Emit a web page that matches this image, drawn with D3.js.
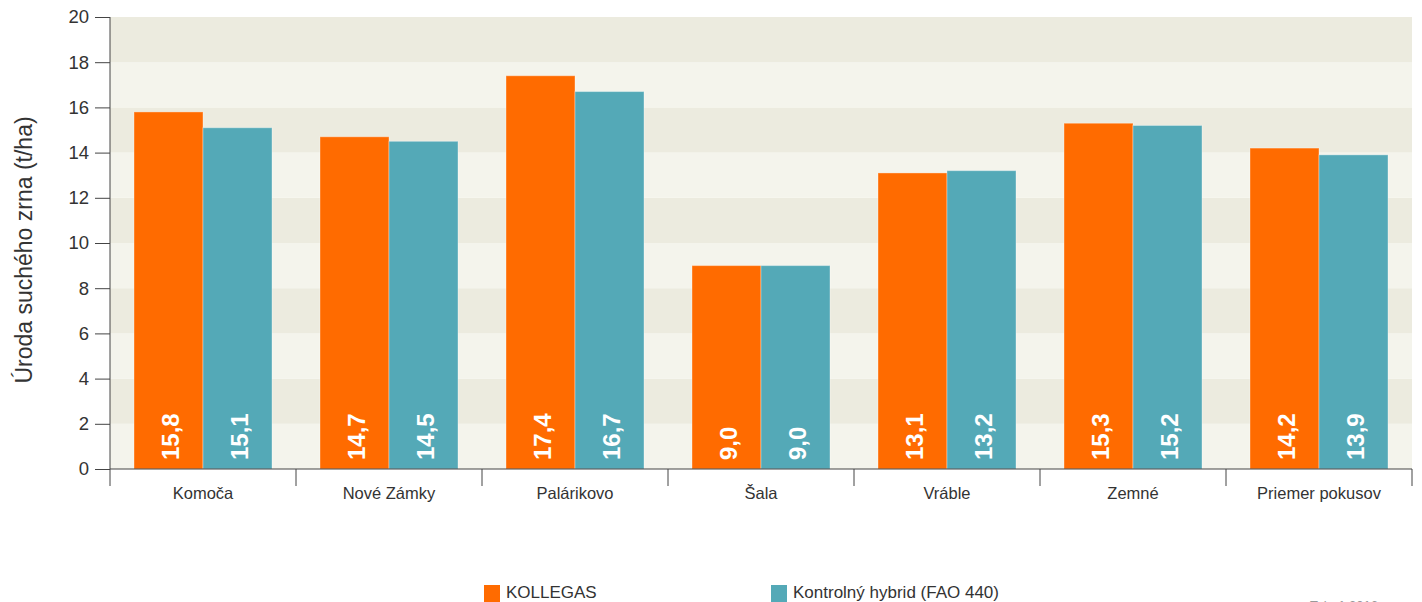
<!DOCTYPE html>
<html>
<head>
<meta charset="utf-8">
<script src="https://cdn.jsdelivr.net/npm/d3@7"></script>
<style>
  body { margin: 0; background: #fff; }
  svg { display: block; font-family: "Liberation Sans", Arial, sans-serif; }
</style>
</head>
<body>
<svg id="chart" width="1422" height="602"></svg>
<script>
const categories = ["Komoča", "Nové Zámky", "Palárikovo", "Šala", "Vráble", "Zemné", "Priemer pokusov"];
const kollegas = [15.8, 14.7, 17.4, 9.0, 13.1, 15.3, 14.2];
const kontrolny = [15.1, 14.5, 16.7, 9.0, 13.2, 15.2, 13.9];
const seriesNames = ["KOLLEGAS", "Kontrolný hybrid (FAO 440)"];
const yTicks = [0, 2, 4, 6, 8, 10, 12, 14, 16, 18, 20];

const colors = ["#ff6b00", "#54a9b7"];
const svg = d3.select("#chart");
const margin = { top: 17, right: 10, bottom: 133, left: 110 };
const width = 1422 - margin.left - margin.right;
const height = 602 - margin.top - margin.bottom;

const g = svg.append("g").attr("transform", `translate(${margin.left},${margin.top})`);

const x = d3.scaleBand().domain(categories).range([0, width]).paddingInner(0).paddingOuter(0);
const inner = d3.scaleBand().domain([0, 1]).range([24, x.bandwidth() - 24]);
const y = d3.scaleLinear().domain([0, 20]).range([height, 0]);

// background bands
const bands = d3.range(0, 20, 2);
g.selectAll(".band")
  .data(bands)
  .enter()
  .append("rect")
  .attr("x", 0)
  .attr("width", width)
  .attr("y", (d) => y(d + 2))
  .attr("height", (d) => y(d) - y(d + 2))
  .attr("fill", (d, i) => (i % 2 ? "#ecebdf" : "#f4f4ec"));

// bars
const rows = categories.map((c, i) => ({ cat: c, vals: [kollegas[i], kontrolny[i]] }));
const grp = g.selectAll(".grp")
  .data(rows)
  .enter()
  .append("g")
  .attr("transform", (d) => `translate(${x(d.cat)},0)`);

grp.selectAll("rect")
  .data((d) => d.vals.map((v, k) => ({ v, k })))
  .enter()
  .append("rect")
  .attr("x", (d) => inner(d.k))
  .attr("width", inner.bandwidth())
  .attr("y", (d) => y(d.v))
  .attr("height", (d) => height - y(d.v))
  .attr("fill", (d) => colors[d.k])
  .attr("stroke", "rgba(255,255,255,0.35)")
  .attr("stroke-width", 1);

grp.selectAll("text")
  .data((d) => d.vals.map((v, k) => ({ v, k })))
  .enter()
  .append("text")
  .attr("transform", (d) => `translate(${inner(d.k) + inner.bandwidth() / 2 + 10},${height - 9}) rotate(-90)`)
  .attr("fill", "#fff")
  .attr("font-weight", "bold")
  .attr("font-size", 24)
  .text((d) => d3.format(".1f")(d.v).replace(".", ","));

// y axis
const yAxis = d3.axisLeft(y).tickValues(yTicks).tickSize(15).tickPadding(6);
const ya = g.append("g").call(yAxis);
ya.select(".domain").attr("stroke", "#444").attr("d", `M0,${height}V0`);
ya.selectAll(".tick line").attr("stroke", "#444");
ya.selectAll("text").attr("font-size", 18.5).attr("fill", "#333");

// x axis
const xa = g.append("g").attr("transform", `translate(0,${height})`);
xa.append("line").attr("x1", 0).attr("x2", width).attr("stroke", "#444");
const bounds = categories.map((c) => x(c)).concat([width]);
xa.selectAll(".xt")
  .data(bounds)
  .enter()
  .append("line")
  .attr("x1", (d) => d)
  .attr("x2", (d) => d)
  .attr("y1", 0)
  .attr("y2", 17)
  .attr("stroke", "#444");
xa.selectAll(".xl")
  .data(categories)
  .enter()
  .append("text")
  .attr("x", (d) => x(d) + x.bandwidth() / 2)
  .attr("y", 30)
  .attr("text-anchor", "middle")
  .attr("font-size", 16.5)
  .attr("fill", "#333")
  .text((d) => d);

// y title
svg.append("text")
  .attr("transform", `translate(32,250) rotate(-90)`)
  .attr("text-anchor", "middle")
  .attr("font-size", 23)
  .attr("fill", "#333")
  .text("Úroda suchého zrna (t/ha)");

// legend
const legX = [484, 771];
seriesNames.forEach((name, i) => {
  svg.append("rect").attr("x", legX[i]).attr("y", 585).attr("width", 16).attr("height", 17).attr("fill", colors[i]);
  svg.append("text")
    .attr("x", legX[i] + 22)
    .attr("y", 598)
    .attr("font-size", 17)
    .attr("fill", "#333")
    .text(name);
});

// note at bottom right, cut by the edge as in the source
svg.append("text")
  .attr("x", 1310)
  .attr("y", 610)
  .attr("font-size", 13)
  .attr("fill", "#999")
  .text("Tab. 1 2016");
</script>
</body>
</html>
